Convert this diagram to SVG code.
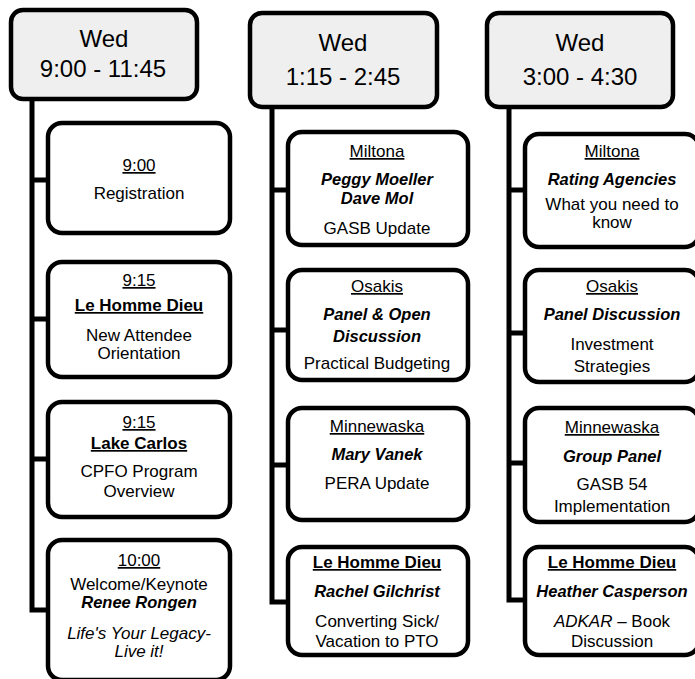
<svg xmlns="http://www.w3.org/2000/svg" width="695" height="679" viewBox="0 0 695 679">
<style>
.hdr{fill:#efefef;stroke:#000;stroke-width:4.5}
.box{fill:#fff;stroke:#000;stroke-width:4.5}
.conn{stroke:#000;stroke-width:5;fill:none;stroke-linejoin:miter}
text{font-family:"Liberation Sans",Arial,sans-serif;text-anchor:middle;fill:#000}
.h{font-size:24px}
.t{font-size:17px}
.u{text-decoration:underline}
.b{font-weight:bold}
.n{font-style:italic;font-weight:bold;font-size:16.5px}
.i{font-style:italic}
</style>
<rect width="695" height="679" fill="#fff"/>
<g id="connectors">
<path class="conn" d="M32 98 V610 H50 M32 180 H50 M32 319 H50 M32 459 H50"/>
<path class="conn" d="M272 106 V602 H290 M272 190 H290 M272 330 H290 M272 465 H290"/>
<path class="conn" d="M509 107 V600 H527 M509 190 H527 M509 333 H527 M509 463 H527"/>
</g>
<g id="h1"><rect class="hdr" x="11" y="10" width="186" height="89" rx="12"/>
<text class="h" x="104" y="47">Wed</text><text class="h" x="103" y="77">9:00 - 11:45</text></g>
<g id="h2"><rect class="hdr" x="250" y="13" width="187" height="94" rx="12"/>
<text class="h" x="343" y="51">Wed</text><text class="h" x="343" y="85">1:15 - 2:45</text></g>
<g id="h3"><rect class="hdr" x="487" y="13" width="186" height="94" rx="12"/>
<text class="h" x="580" y="51">Wed</text><text class="h" x="580" y="85">3:00 - 4:30</text></g>

<g id="c1n1"><rect class="box" x="48" y="123" width="182" height="110" rx="14"/>
<text class="t u" x="139" y="171">9:00</text><text class="t" x="139" y="199">Registration</text></g>
<g id="c1n2"><rect class="box" x="48" y="262" width="182" height="115" rx="14"/>
<text class="t u" x="139" y="286">9:15</text><text class="t u b" x="139" y="311">Le Homme Dieu</text>
<text class="t" x="139" y="341">New Attendee</text><text class="t" x="139" y="359">Orientation</text></g>
<g id="c1n3"><rect class="box" x="48" y="402" width="182" height="115" rx="14"/>
<text class="t u" x="139" y="428">9:15</text><text class="t u b" x="139" y="449">Lake Carlos</text>
<text class="t" x="139" y="477">CPFO Program</text><text class="t" x="139" y="497">Overview</text></g>
<g id="c1n4"><rect class="box" x="48" y="540" width="182" height="140" rx="14"/>
<text class="t u" x="139" y="566">10:00</text><text class="t" x="139" y="590">Welcome/Keynote</text>
<text class="t n" x="139" y="608">Renee Rongen</text>
<text class="t i" x="139" y="639">Life's Your Legacy-</text><text class="t i" x="139" y="657">Live it!</text></g>

<g id="c2n1"><rect class="box" x="288" y="132" width="180" height="113" rx="14"/>
<text class="t u" x="377" y="157">Miltona</text><text class="t n" x="377" y="185">Peggy Moeller</text>
<text class="t n" x="377" y="204">Dave Mol</text><text class="t" x="377" y="234">GASB Update</text></g>
<g id="c2n2"><rect class="box" x="288" y="270" width="180" height="110" rx="14"/>
<text class="t u" x="377" y="292">Osakis</text><text class="t n" x="377" y="320">Panel &amp; Open</text>
<text class="t n" x="377" y="342">Discussion</text><text class="t" x="377" y="369">Practical Budgeting</text></g>
<g id="c2n3"><rect class="box" x="288" y="408" width="180" height="112" rx="14"/>
<text class="t u" x="377" y="432">Minnewaska</text><text class="t n" x="377" y="460">Mary Vanek</text>
<text class="t" x="377" y="489">PERA Update</text></g>
<g id="c2n4"><rect class="box" x="288" y="547" width="180" height="108" rx="14"/>
<text class="t u b" x="377" y="568">Le Homme Dieu</text><text class="t n" x="377" y="597">Rachel Gilchrist</text>
<text class="t" x="377" y="627">Converting Sick/</text><text class="t" x="377" y="647">Vacation to PTO</text></g>

<g id="c3n1"><rect class="box" x="525" y="134" width="174" height="113" rx="14"/>
<text class="t u" x="612" y="157">Miltona</text><text class="t n" x="612" y="185">Rating Agencies</text>
<text class="t" x="612" y="210">What you need to</text><text class="t" x="612" y="228">know</text></g>
<g id="c3n2"><rect class="box" x="525" y="270" width="174" height="112" rx="14"/>
<text class="t u" x="612" y="292">Osakis</text><text class="t n" x="612" y="320">Panel Discussion</text>
<text class="t" x="612" y="350">Investment</text><text class="t" x="612" y="372">Strategies</text></g>
<g id="c3n3"><rect class="box" x="525" y="408" width="174" height="114" rx="14"/>
<text class="t u" x="612" y="433">Minnewaska</text><text class="t n" x="612" y="462">Group Panel</text>
<text class="t" x="612" y="490">GASB 54</text><text class="t" x="612" y="512">Implementation</text></g>
<g id="c3n4"><rect class="box" x="525" y="547" width="174" height="108" rx="14"/>
<text class="t u b" x="612" y="568">Le Homme Dieu</text><text class="t n" x="612" y="597">Heather Casperson</text>
<text class="t" x="612" y="627"><tspan class="i">ADKAR</tspan> – Book</text><text class="t" x="612" y="647">Discussion</text></g>
</svg>
